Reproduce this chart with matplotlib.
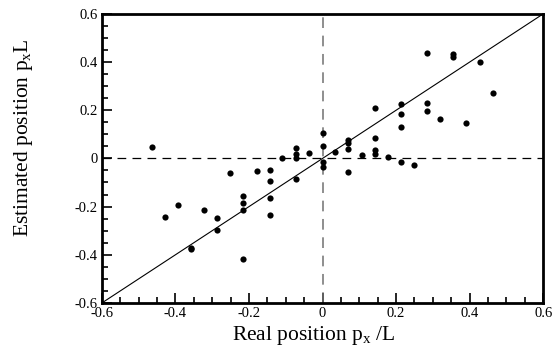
import matplotlib
matplotlib.use("Agg")
import matplotlib.pyplot as plt
from matplotlib.ticker import MultipleLocator

plt.rcParams["font.family"] = ["Liberation Serif", "DejaVu Serif"]
plt.rcParams["mathtext.fontset"] = "custom"
plt.rcParams["mathtext.rm"] = "Liberation Serif"
plt.rcParams["mathtext.it"] = "Liberation Serif"

# real position p_x/L
real_x = [-0.465, -0.429, -0.393, -0.358, -0.358, -0.322, -0.287, -0.287,
          -0.251, -0.215, -0.215, -0.215, -0.215, -0.178, -0.144, -0.144,
          -0.144, -0.144, -0.109, -0.073, -0.073, -0.073, -0.073, -0.036,
          0.0, 0.0, 0.0, 0.0, 0.035, 0.070, 0.070, 0.070, 0.070,
          0.106, 0.142, 0.142, 0.142, 0.142, 0.177, 0.213, 0.213, 0.213,
          0.213, 0.249, 0.283, 0.283, 0.283, 0.320, 0.356, 0.356, 0.391,
          0.428, 0.463]
# estimated position
est_y = [0.048, -0.245, -0.192, -0.370, -0.376, -0.215, -0.247, -0.298,
         -0.059, -0.158, -0.186, -0.214, -0.418, -0.052, -0.048, -0.092,
         -0.165, -0.234, 0.002, 0.044, 0.017, 0.0, -0.085, 0.022,
         0.107, 0.053, -0.013, -0.034, 0.026, 0.077, 0.066, 0.041, -0.057,
         0.016, 0.211, 0.085, 0.035, 0.019, 0.006, 0.225, 0.183, 0.132,
         -0.013, -0.028, 0.439, 0.229, 0.198, 0.164, 0.432, 0.422, 0.149,
         0.399, 0.273]

fig = plt.figure(figsize=(5.6, 3.47), dpi=100)
ax = fig.add_axes([0.182, 0.127, 0.788, 0.833])

ax.plot([-0.6, 0.6], [-0.6, 0.6], color="black", lw=0.8)
ax.axhline(0, color="black", lw=0.9, ls=(0, (7, 5)))
ax.axvline(0, color="#707070", lw=1.1, ls=(0, (7, 5)))
ax.scatter(real_x, est_y, s=20, color="black", zorder=3, linewidths=0)

ax.set_xlim(-0.6, 0.6)
ax.set_ylim(-0.6, 0.6)
ax.xaxis.set_major_locator(MultipleLocator(0.2))
ax.yaxis.set_major_locator(MultipleLocator(0.2))
ax.xaxis.set_minor_locator(MultipleLocator(0.05))
ax.yaxis.set_minor_locator(MultipleLocator(0.05))
ax.tick_params(which="both", direction="in", width=1.2, labelsize=10.5,
               colors="black")
ax.tick_params(axis="x", pad=3)
ax.tick_params(axis="y", pad=3)
ax.tick_params(which="major", length=7)
ax.tick_params(which="minor", length=4)

fmt = lambda v, p: "0" if abs(v) < 1e-9 else f"{v:.1f}"
ax.xaxis.set_major_formatter(fmt)
ax.yaxis.set_major_formatter(fmt)

for s in ax.spines.values():
    s.set_linewidth(2)

ax.set_xlabel(r"Real position p$_{\mathrm{x}}$ /L", fontsize=15.5)
ax.set_ylabel(r"Estimated position p$_{\mathrm{x}}$L", fontsize=15.5)
ax.xaxis.set_label_coords(0.48, -0.072)
ax.yaxis.set_label_coords(-0.151, 0.57)

fig.savefig("out.png", dpi=100)
